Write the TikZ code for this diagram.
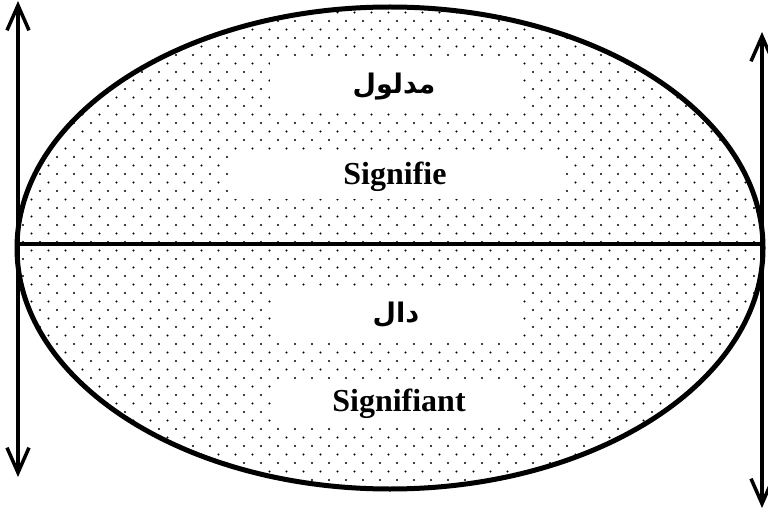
\documentclass[tikz,border=0pt]{standalone}
\usepackage{fontspec}
\setmainfont{Liberation Serif}
\newfontfamily\arabicfont[Script=Arabic]{DejaVu Sans}
\TeXXeTstate=1
\usetikzlibrary{arrows.meta}

\tikzset{
  caja/.style={fill=white, inner sep=0pt},
  latino/.style={font=\fontsize{32}{34}\selectfont\bfseries},
  arabe/.style={font=\arabicfont\fontsize{27}{30}\selectfont\bfseries},
  flecha/.style={line width=3.5pt, {Straight Barb[length=25pt,width=22pt]}-{Straight Barb[length=25pt,width=22pt]}},
}

\begin{document}
\begin{tikzpicture}[x=1pt, y=-1pt]
	% Marco de la imagen
	\useasboundingbox (0,0) rectangle (768,513);
	
	% Puntos dentro de la elipse
	\begin{scope}
		\clip (390,248) ellipse (373 and 241);
		\foreach \j in {0,...,58}{
			\foreach \i in {0,...,45}{
				\fill ({6+\i*17+mod(\j,2)*8.5}, {4+\j*8.5}) circle (1.2pt);
			}
		}
	\end{scope}
	
	% Elipse y diametro
	\draw[line width=5pt] (390,248) ellipse (373 and 241);
	\coordinate (izq) at (17,244);
	\coordinate (der) at (763,244);
	\draw[line width=4pt] (izq) -- (der);
	
	% Cajas con los textos
	\node[caja, arabe, minimum width=248pt, minimum height=50pt] (madlul) at (394,87) {\beginR مدلول\endR};
	\node[caja, latino, minimum width=334pt, minimum height=44pt] (signifie) at (395,177) {Signifie};
	\node[caja, arabe, minimum width=243pt, minimum height=50pt] (dal) at (396,315) {\beginR دال\endR};
	\node[caja, latino, minimum width=248pt, minimum height=38pt] (signifiant) at (399,404) {Signifiant};
	
	% Flechas verticales
	\coordinate (izqA) at (18,1);
	\coordinate (izqB) at (18,477);
	\coordinate (derA) at (762,32);
	\coordinate (derB) at (762,508);
	\draw[flecha] (izqA) -- (izqB);
	\draw[flecha] (derA) -- (derB);
\end{tikzpicture}
\end{document}
